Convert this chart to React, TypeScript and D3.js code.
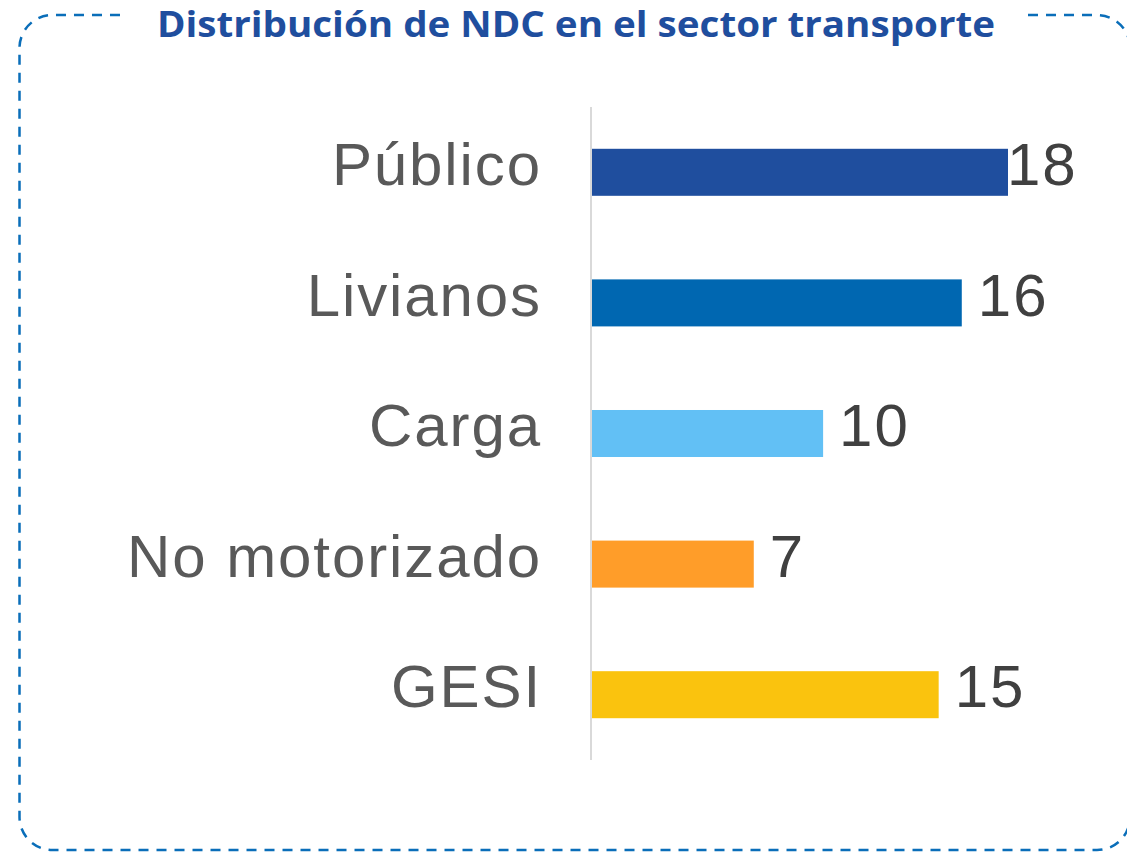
import React from "react";
import * as d3 from "d3";

const categories = ["Público", "Livianos", "Carga", "No motorizado", "GESI"];
const values = [18, 16, 10, 7, 15];
const colors = ["#1F4E9E", "#0067B1", "#62C0F5", "#FF9D29", "#FAC30E"];
const title = "Distribución de NDC en el sector transporte";

const W = 1127;
const H = 852;

export default function App() {
  const axisX = 591;
  const top = 107;
  const bottom = 760;
  const y = d3.scaleBand<string>().domain(categories).range([top, bottom]).paddingInner(0.64).paddingOuter(0.32);
  const x = d3.scaleLinear().domain([0, 18]).range([axisX + 1, 1008]);
  const bw = y.bandwidth();

  // dashed rounded border with gap for title
  const L = 19.5, T = 15, R = 1130, B = 850, r = 33;
  const gapL = 120, gapR = 1028;
  const p = d3.path();
  p.moveTo(gapR, T);
  p.lineTo(R - r, T);
  p.arcTo(R, T, R, T + r, r);
  p.lineTo(R, B - r);
  p.arcTo(R, B, R - r, B, r);
  p.lineTo(L + r, B);
  p.arcTo(L, B, L, B - r, r);
  p.lineTo(L, T + r);
  p.arcTo(L, T, L + r, T, r);
  p.lineTo(gapL, T);

  const font = "'Liberation Sans', Arial, Helvetica, sans-serif";

  return (
    <svg width={W} height={H} style={{ position: "absolute", left: 0, top: 0, background: "#fff" }}>
      <path d={p.toString()} fill="none" stroke="#0A6EB9" strokeWidth={2.5} strokeDasharray="10 8" />
      <text x={157} y={37} textLength={838} lengthAdjust="spacingAndGlyphs" fontFamily="'Open Sans', Lato, sans-serif" fontWeight={700} fontSize={35} fill="#1F4E9E">
        {title}
      </text>
      <line x1={axisX} x2={axisX} y1={top} y2={bottom} stroke="#D9D9D9" strokeWidth={2} />
      {categories.map((c, i) => {
        const yc = (y(c) as number) + bw / 2;
        const lx = Math.min(x(values[i]) + 16, 1007);
        return (
          <g key={c}>
            <rect x={x(0)} y={y(c)} width={x(values[i]) - x(0)} height={bw} fill={colors[i]} />
            <text x={542} y={yc + 12.6} textAnchor="end" fontFamily={font} fontSize={60} letterSpacing={1.9} fill="#595959">
              {c}
            </text>
            <text x={lx} y={yc + 12.6} fontFamily={font} fontSize={60} letterSpacing={2} fill="#404040">
              {values[i]}
            </text>
          </g>
        );
      })}
    </svg>
  );
}
